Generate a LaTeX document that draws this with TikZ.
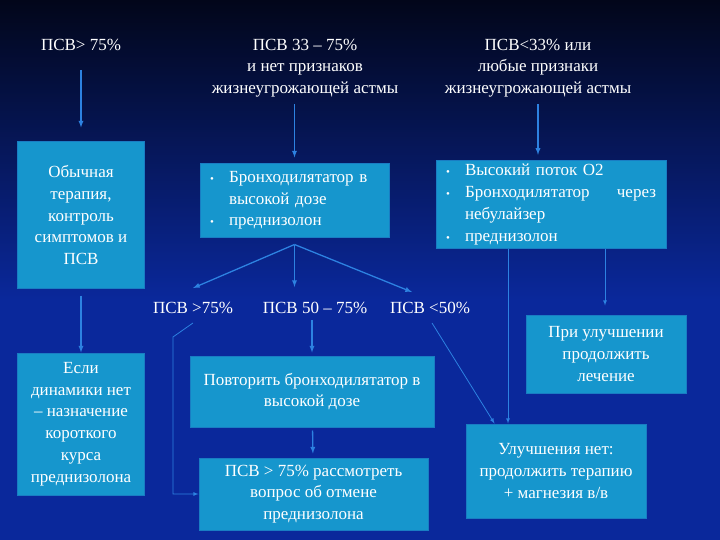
\documentclass[tikz,border=0pt]{standalone}
\usepackage{fontspec}
\setmainfont{Liberation Serif}
\usetikzlibrary{positioning,arrows}
\definecolor{bgtop}{RGB}{2,6,26}
\definecolor{bgbottom}{RGB}{10,40,155}
\definecolor{boxfill}{RGB}{22,150,205}
\definecolor{boxline}{RGB}{25,125,195}
\definecolor{flowblue}{RGB}{45,130,225}
\newcommand{\slidefont}{\fontsize{17bp}{21.7bp}\selectfont}
\newcommand{\bul}{\makebox[19bp][l]{\fontsize{11bp}{11bp}\selectfont\textbullet}}
\newcommand{\bulind}{\hspace*{19bp}}
\tikzset{%
reading/.style={text=white,font=\slidefont,align=center,inner sep=2bp},
actionbox/.style={draw=boxline,fill=boxfill,text=white,font=\slidefont,align=center,inner sep=4bp,line width=1bp},
bulletbox/.style={actionbox,align=left,inner xsep=10bp},
flow/.style={color=flowblue,line width=1.3bp,->,>=latex},
thinflow/.style={flow,line width=0.8bp}
}
\begin{document}
\begin{tikzpicture}[x=1bp,y=-1bp]

    \shade[top color=bgtop,bottom color=bgbottom] (0,0) rectangle (720,300);
    \fill[bgbottom] (0,300) rectangle (720,540);

    \node[reading] (t1) at (81,45) {ПСВ> 75\%};
    \node[reading] (t2) at (305,68) {ПСВ 33 – 75\%\\и нет признаков\\жизнеугрожающей астмы};
    \node[reading] (t3) at (538,68) {ПСВ<33\% или\\любые признаки\\жизнеугрожающей астмы};

    \node[actionbox,minimum width=126bp,minimum height=146bp] (usual) at (81,215)
        {Обычная\\терапия,\\контроль\\симптомов и\\ПСВ};
    \node[actionbox,minimum width=126bp,minimum height=142bp] (ifnone) at (81,424)
        {Если\\динамики нет\\– назначение\\короткого\\курса\\преднизолона};
    \node[bulletbox,text width=169bp,minimum height=73bp] (bronch) at (294.5,200.5)
        {\bul Бронходилятатор в\\\bulind высокой дозе\\\bul преднизолон};
    \node[bulletbox,text width=210bp,minimum height=85bp] (severe) at (551,204.5)
        {\bul Высокий поток О2\\\bul Бронходилятатор \hfill через\\\bulind небулайзер\\\bul преднизолон};

    \node[reading] (psvhigh) at (193,308) {ПСВ >75\%};
    \node[reading] (psvmid) at (315,308) {ПСВ 50 – 75\%};
    \node[reading] (psvlow) at (430,308) {ПСВ <50\%};

    \node[actionbox,minimum width=244bp,minimum height=71bp] (again) at (312,391.5)
        {Повторить бронходилятатор в\\высокой дозе};
    \node[actionbox,minimum width=229bp,minimum height=72bp] (stopster) at (313.5,494)
        {ПСВ > 75\% рассмотреть\\вопрос об отмене\\преднизолона};
    \node[actionbox,minimum width=160bp,minimum height=78bp] (better) at (606,354)
        {При улучшении\\продолжить\\лечение};
    \node[actionbox,minimum width=180bp,minimum height=94bp] (nobetter) at (556,471)
        {Улучшения нет:\\продолжить терапию\\+ магнезия в/в};

    \coordinate (fork) at ([yshift=-7bp]bronch.south);

    \path[flow] (t1) edge[shorten <=17bp,shorten >=14bp] (usual)
                (usual) edge[shorten <=7bp] (ifnone);
    \draw[flow,shorten <=5bp,shorten >=6bp] (t2.south -| bronch.north) -- (bronch.north);
    \draw[flow,shorten <=5bp,shorten >=5bp] (t3.south) -- (t3.south |- severe.north);

    \path[flow] (fork) edge ([yshift=12bp]psvhigh.north)
                       edge ([yshift=13bp]psvmid.north -| fork)
                       edge ([xshift=-18bp,yshift=8bp]psvlow.north);

    \draw[thinflow] ([yshift=-7bp]psvhigh.south) -- ++(-20,14) |- (stopster.west);
    \draw[flow,shorten <=4bp,shorten >=3bp] (psvmid.south -| again.north) -- (again.north);
    \path[flow] (again) edge[shorten <=3bp,shorten >=4bp] (stopster);

    \draw[thinflow] ([xshift=2bp,yshift=-7bp]psvlow.south) -- ([xshift=29bp]nobetter.north west);
    \draw[thinflow] ([xshift=-43bp]severe.south) -- ([xshift=-43bp]severe.south |- nobetter.north);
    \draw[thinflow,shorten >=9bp] ([xshift=54bp]severe.south) -- ([xshift=54bp]severe.south |- better.north);

\end{tikzpicture}
\end{document}
